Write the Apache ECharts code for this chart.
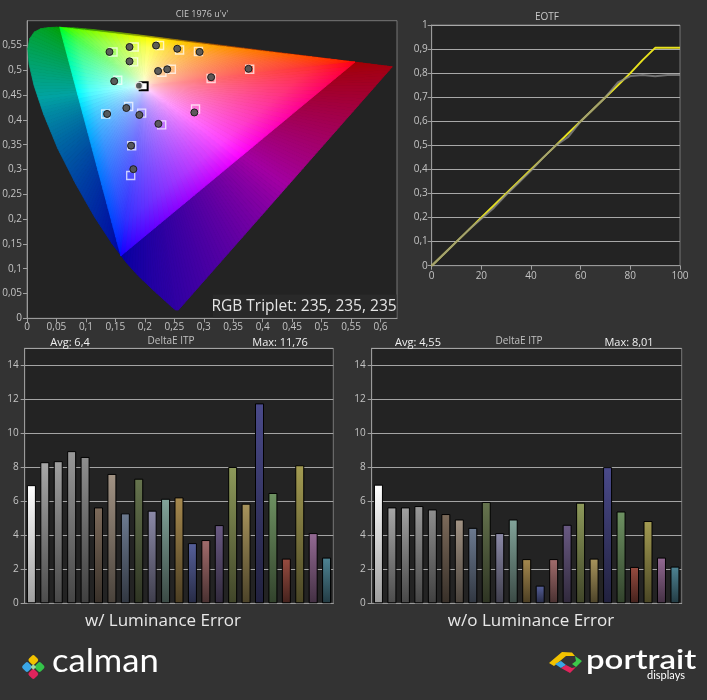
<!DOCTYPE html>
<html><head><meta charset="utf-8">
<script src="https://cdn.jsdelivr.net/npm/echarts@6/dist/echarts.min.js"></script>
<style>html,body{margin:0;padding:0;background:#333333;}#c{width:707px;height:700px;}</style>
</head><body><div id="c"></div>
<script>
// ---- CIE 1976 u'v' spectral locus (380..680 nm) ----
const locusU = [0.2568,0.2522,0.2461,0.2347,0.2161,0.1877,0.1690,0.1441,0.1147,0.0828,0.0521,0.0282,0.0119,0.0035,0.0014,0.0046,0.0123,0.0231,0.0360,0.0501,0.0792,0.1127,0.1531,0.2026,0.2623,0.3315,0.4035,0.4692,0.5203,0.5565,0.5830,0.6005,0.6109,0.6199];
const locusV = [0.0166,0.0169,0.0226,0.0350,0.0549,0.0871,0.1119,0.1510,0.2044,0.2708,0.3427,0.4117,0.4698,0.5131,0.5432,0.5638,0.5770,0.5837,0.5861,0.5868,0.5856,0.5821,0.5766,0.5694,0.5604,0.5501,0.5393,0.5296,0.5219,0.5165,0.5125,0.5099,0.5084,0.5070];
// Rec.2020 primaries R, G, B
const gamutU = [0.5566,0.0556,0.1593];
const gamutV = [0.5165,0.5868,0.1258];
const whiteUV = [0.1978,0.4683];
// targets (squares) and measurements (circles)
const targetU = [0.146,0.182,0.225,0.259,0.291,0.181,0.229,0.245,0.378,0.3125,0.154,0.198,0.1726,0.1335,0.1946,0.286,0.2286,0.1777,0.176];
const targetV = [0.537,0.547,0.550,0.541,0.538,0.517,0.496,0.502,0.502,0.4836,0.480,0.468,0.427,0.412,0.4137,0.422,0.390,0.348,0.288];
const measU = [0.140,0.174,0.219,0.255,0.293,0.174,0.2225,0.238,0.376,0.3125,0.148,0.190,0.1686,0.136,0.1907,0.284,0.223,0.1766,0.1805];
const measV = [0.537,0.547,0.550,0.5435,0.537,0.518,0.4985,0.502,0.503,0.486,0.478,0.469,0.424,0.412,0.410,0.415,0.392,0.348,0.3007];
const currentIndex = 11;
// ---- EOTF ----
const eotfX = [0,5,10,15,20,25,30,35,40,45,50,55,60,65,70,75,80,85,90,95,100];
const eotfTarget = [0,0.05,0.1,0.15,0.2,0.25,0.3,0.35,0.4,0.45,0.5,0.55,0.6,0.65,0.7,0.75,0.8,0.855,0.905,0.905,0.905];
const eotfMeasured = [0,0.05,0.1,0.15,0.195,0.24,0.295,0.345,0.395,0.45,0.5,0.535,0.6,0.65,0.7,0.762,0.788,0.792,0.787,0.792,0.792];
// ---- DeltaE ITP ----
const patches = ['1','2','3','4','5','6','7','8','9','10','11','12','13','14','15','16','17','18','19','20','21','22','23'];
const patchColors = ['#ffffff','#a8a8a8','#a0a0a0','#999999','#8e8e8e','#7c6a5a','#a29384','#6c7a90','#66744e','#8c8aa8','#82a49a','#a6894e','#56609a','#a26c6c','#6a5a84','#8e9a5a','#a8945c','#4a4a8a','#6e9262','#984c40','#a49c52','#946a94','#4e8494'];
const deltaWithLum = [6.95,8.30,8.36,8.95,8.61,5.64,7.61,5.29,7.33,5.45,6.15,6.23,3.54,3.72,4.60,8.02,5.86,11.76,6.49,2.63,8.12,4.13,2.69];
const deltaNoLum = [6.98,5.64,5.64,5.72,5.52,5.25,4.93,4.44,5.96,4.13,4.93,2.60,1.04,2.60,4.62,5.92,2.63,8.01,5.40,2.14,4.84,2.69,2.16];
const statsWith = {avg:'6,4', max:'11,76'};
const statsNo = {avg:'4,55', max:'8,01'};

// ---- colour helpers ----
const S = [4.578,10.399,4.241];
function bary(u,v){
  const x1=gamutU[0],x2=gamutU[1],x3=gamutU[2],y1=gamutV[0],y2=gamutV[1],y3=gamutV[2];
  const det=(y2-y3)*(x1-x3)+(x3-x2)*(y1-y3);
  const a=((y2-y3)*(u-x3)+(x3-x2)*(v-y3))/det;
  const b=((y3-y1)*(u-x3)+(x1-x3)*(v-y3))/det;
  return [a,b,1-a-b];
}
function uvRgb(u,v,gam){
  const w=bary(u,v);
  const c=w.map((x,i)=>Math.max(0,x)/S[i]);
  const m=Math.max(c[0],c[1],c[2])||1;
  return c.map(x=>Math.pow(x/m,1/gam));
}
function rgbStr(c,k){return 'rgb('+c.map(x=>Math.round(255*Math.min(1,x*k))).join(',')+')';}
function hitColor(u,v,k){
  const w0=bary(whiteUV[0],whiteUV[1]), w1=bary(u,v);
  let f=1;
  for(let i=0;i<3;i++){ if(w1[i]<0){ f=Math.min(f,w0[i]/(w0[i]-w1[i])); } }
  const hu=whiteUV[0]+(u-whiteUV[0])*f*0.999, hv=whiteUV[1]+(v-whiteUV[1])*f*0.999;
  return rgbStr(uvRgb(hu,hv,1.3),k);
}
function shade(hex,k){
  const n=parseInt(hex.slice(1),16);
  const r=(n>>16)&255,g=(n>>8)&255,b=n&255;
  return 'rgb('+[r,g,b].map(x=>Math.round(x*k)).join(',')+')';
}
const fmt = v => String(Math.round(v*1000)/1000).replace('.',',');

// segments
const outerSegs=[];
for(let i=0;i<locusU.length-1;i++) outerSegs.push([locusU[i],locusV[i],locusU[i+1],locusV[i+1]]);
outerSegs.push([locusU[locusU.length-1],locusV[locusV.length-1],locusU[0],locusV[0]]);
const innerSegs=[];
for(let i=0;i<3;i++){const j=(i+1)%3; innerSegs.push([gamutU[i],gamutV[i],gamutU[j],gamutV[j]]);}

function renderOuter(params,api){
  const u1=api.value(0),v1=api.value(1),u2=api.value(2),v2=api.value(3);
  const pw=api.coord(whiteUV);
  const len=Math.hypot(u2-u1,v2-v1);
  const n=Math.max(1,Math.ceil(len/0.008));
  const ch=[];
  for(let k=0;k<n;k++){
    const a=k/n,b=(k+1)/n,m=(k+0.5)/n;
    const p1=api.coord([u1+(u2-u1)*a,v1+(v2-v1)*a]);
    const p2=api.coord([u1+(u2-u1)*b,v1+(v2-v1)*b]);
    const col=hitColor(u1+(u2-u1)*m,v1+(v2-v1)*m,0.64);
    ch.push({type:'polygon',shape:{points:[pw,p1,p2]},style:{fill:col,stroke:col,lineWidth:0.8}});
  }
  return {type:'group',children:ch};
}
function renderInner(params,api){
  const u1=api.value(0),v1=api.value(1),u2=api.value(2),v2=api.value(3);
  const W=whiteUV, pw=api.coord(W);
  const n=48, ch=[];
  for(let k=0;k<n;k++){
    const a=k/n,b=(k+1)/n,m=(k+0.5)/n;
    const p1=api.coord([u1+(u2-u1)*a,v1+(v2-v1)*a]);
    const p2=api.coord([u1+(u2-u1)*b,v1+(v2-v1)*b]);
    const em=[u1+(u2-u1)*m,v1+(v2-v1)*m];
    const pm=api.coord(em);
    const stops=[0,0.05,0.12,0.2,0.3,0.45,0.6,0.8,1].map(f=>{const g=Math.pow(f,0.62);return {offset:f,color:rgbStr(uvRgb(W[0]+(em[0]-W[0])*g,W[1]+(em[1]-W[1])*g,2.0),1)};});
    const g={type:'linear',x:pw[0],y:pw[1],x2:pm[0],y2:pm[1],global:true,colorStops:stops};
    ch.push({type:'polygon',shape:{points:[pw,p1,p2]},style:{fill:g,stroke:g,lineWidth:0.8}});
  }
  return {type:'group',children:ch};
}

const FONT="'Open Sans', sans-serif";
const lab={color:'#c4c4c4',fontSize:10,fontFamily:FONT};
const tick={show:true,length:4,lineStyle:{color:'#a0a0a0'}};
const aline={show:true,lineStyle:{color:'#9a9a9a'}};

const targetData = targetU.map((u,i)=>{
  const d={value:[u,targetV[i]]};
  if(i===currentIndex) d.itemStyle={borderColor:'#000',borderWidth:2,color:'rgba(255,255,255,0.9)'};
  return d;
});
const measData = measU.map((u,i)=>{
  const d={value:[u,measV[i]]};
  if(i===currentIndex) d.itemStyle={borderColor:'#e8e8e8',borderWidth:1.2};
  return d;
});
function barData(vals){
  return vals.map((v,i)=>({value:v,itemStyle:{color:{type:'linear',x:0,y:0,x2:0,y2:1,colorStops:[{offset:0,color:patchColors[i]},{offset:1,color:shade(patchColors[i],i===0?0.62:0.45)}]}}}));
}
function barGridAxes(gi){
  return {
    x:{type:'category',gridIndex:gi,data:patches,axisLabel:{show:false},axisTick:{show:false},axisLine:aline},
    y:{type:'value',gridIndex:gi,min:0,max:15,interval:2,axisLabel:Object.assign({margin:6,showMaxLabel:false},lab),axisTick:tick,axisLine:aline,splitLine:{show:true,lineStyle:{color:'#a4a4a4',width:1}}}
  };
}
const b2=barGridAxes(2), b3=barGridAxes(3);
function txt(t,x,y,size,color,align){return {type:'text',z:100,style:{text:t,x:x,y:y,fill:color,font:size+'px '+FONT,textAlign:align||'center',textVerticalAlign:'middle'}};}
function dia(cx,cy,s,col){return {type:'rect',z:100,x:cx,y:cy,rotation:Math.PI/4,shape:{x:-s/2,y:-s/2,width:s,height:s,r:2},style:{fill:col}};}

const gridCommon={show:true,backgroundColor:'#232323',borderColor:'#777777',borderWidth:1,containLabel:false,outerBoundsMode:'none'};
const option={
  backgroundColor:'#333333',
  animation:false,
  textStyle:{fontFamily:FONT},
  grid:[
    Object.assign({left:27,top:20.7,width:370,height:297.6},gridCommon),
    Object.assign({left:431.7,top:25,width:248.3,height:240.7},gridCommon),
    Object.assign({left:24.7,top:348.3,width:308.6,height:255},gridCommon),
    Object.assign({left:371.7,top:348.3,width:310,height:255},gridCommon)
  ],
  xAxis:[
    {type:'value',gridIndex:0,min:0,max:0.628,interval:0.05,axisLabel:Object.assign({margin:4,showMaxLabel:false,formatter:fmt},lab),axisTick:tick,axisLine:aline,splitLine:{show:false}},
    {type:'value',gridIndex:1,min:0,max:100,interval:20,axisLabel:Object.assign({margin:5},lab),axisTick:tick,axisLine:aline,splitLine:{show:false}},
    b2.x,b3.x
  ],
  yAxis:[
    {type:'value',gridIndex:0,min:0,max:0.6,interval:0.05,axisLabel:Object.assign({margin:5,showMaxLabel:false,formatter:fmt},lab),axisTick:tick,axisLine:aline,splitLine:{show:false}},
    {type:'value',gridIndex:1,min:0,max:1,interval:0.1,axisLabel:Object.assign({margin:4,formatter:fmt},lab),axisTick:tick,axisLine:aline,splitLine:{show:true,lineStyle:{color:'#a8a8a8',width:1}}},
    b2.y,b3.y
  ],
  series:[
    {type:'custom',name:'locus',xAxisIndex:0,yAxisIndex:0,data:outerSegs,renderItem:renderOuter,clip:true,z:1,silent:true,encode:{x:[0,2],y:[1,3]}},
    {type:'custom',name:'gamut',xAxisIndex:0,yAxisIndex:0,data:innerSegs,renderItem:renderInner,clip:true,z:2,silent:true,encode:{x:[0,2],y:[1,3]}},
    {type:'scatter',name:'target',xAxisIndex:0,yAxisIndex:0,data:targetData,symbol:'rect',symbolSize:8,z:3,itemStyle:{color:'rgba(0,0,0,0)',borderColor:'rgba(255,255,255,0.7)',borderWidth:1.4,opacity:1}},
    {type:'scatter',name:'measured',xAxisIndex:0,yAxisIndex:0,data:measData,symbol:'circle',symbolSize:7,z:4,itemStyle:{color:'rgba(84,84,84,0.95)',borderColor:'#1c1c1c',borderWidth:1,opacity:1}},
    {type:'line',name:'target EOTF',xAxisIndex:1,yAxisIndex:1,data:eotfX.map((x,i)=>[x,eotfTarget[i]]),showSymbol:false,lineStyle:{color:'#e8e21e',width:2},z:3},
    {type:'line',name:'measured EOTF',xAxisIndex:1,yAxisIndex:1,data:eotfX.map((x,i)=>[x,eotfMeasured[i]]),showSymbol:false,lineStyle:{color:'rgba(140,140,140,0.75)',width:2},z:4},
    {type:'bar',name:'with luminance',xAxisIndex:2,yAxisIndex:2,data:barData(deltaWithLum),barWidth:9,itemStyle:{borderColor:'#000',borderWidth:1}},
    {type:'bar',name:'without luminance',xAxisIndex:3,yAxisIndex:3,data:barData(deltaNoLum),barWidth:9,itemStyle:{borderColor:'#000',borderWidth:1}}
  ],
  graphic:[
    txt("CIE 1976 u'v'",202,14.5,9,'#c8c8c8'),
    txt('EOTF',547,17.5,10,'#c8c8c8'),
    {type:'rect',z:100,shape:{x:213,y:294.5,width:183.5,height:23},style:{fill:'rgba(42,42,42,0.92)'}},
    {type:'text',z:101,style:{text:'RGB Triplet: 235, 235, 235',x:304,y:306.5,fill:'#e4e4e4',font:"15.5px 'Open Sans',sans-serif",textAlign:'center',textVerticalAlign:'middle'}},
    txt('Avg: '+statsWith.avg,70,342.5,11,'#f0f0f0'),
    txt('DeltaE ITP',171,341.5,10,'#c0c0c0'),
    txt('Max: '+statsWith.max,280,342.5,11,'#f0f0f0'),
    txt('Avg: '+statsNo.avg,418,342.5,11,'#f0f0f0'),
    txt('DeltaE ITP',519,341.5,10,'#c0c0c0'),
    txt('Max: '+statsNo.max,629,342.5,11,'#f0f0f0'),
    txt('w/ Luminance Error',163,621,17,'#e8e8e8'),
    txt('w/o Luminance Error',531,621,17,'#e8e8e8'),
    // calman logo
    dia(33.3,660,8,'#f2c200'),
    dia(27,667,8,'#3aa6e6'),
    dia(39.6,667,8,'#34c44a'),
    dia(33.3,674,8,'#e0245c'),
    {type:'rect',z:101,x:33.3,y:667,rotation:Math.PI/4,shape:{x:-2,y:-2,width:4,height:4},style:{fill:'#9fd9a0'}},
    {type:'text',z:100,x:52,y:662,scaleX:1.08,style:{text:'calman',x:0,y:0,fill:'#ffffff',font:"32px Lato, sans-serif",textAlign:'left',textVerticalAlign:'middle'}},
    // portrait logo
    {type:'polygon',z:100,shape:{points:[[549,663],[562,652],[572,652.5],[575,656],[566,656],[554,666]]},style:{fill:'#f2c200'}},
    {type:'polygon',z:100,shape:{points:[[575,656],[582,661],[576,667],[572,664],[576,661]]},style:{fill:'#3cc84a'}},
    {type:'polygon',z:100,shape:{points:[[555,664],[561,661],[566,665],[561,668]]},style:{fill:'#3aa6e6'}},
    {type:'polygon',z:100,shape:{points:[[561,668],[566,665],[572,668],[576,667],[570,673]]},style:{fill:'#e0245c'}},
    {type:'text',z:100,x:586,y:660,scaleX:1.22,style:{text:'portrait',x:0,y:0,fill:'#ffffff',font:"600 27px Lato, sans-serif",textAlign:'left',textVerticalAlign:'middle'}},
    {type:'text',z:100,x:666,y:675,style:{text:'displays',x:0,y:0,fill:'#ffffff',font:"11px Lato, sans-serif",textAlign:'center',textVerticalAlign:'middle'}}
  ]
};
const chart=echarts.init(document.getElementById('c'));
chart.setOption(option);
</script>
</body></html>
